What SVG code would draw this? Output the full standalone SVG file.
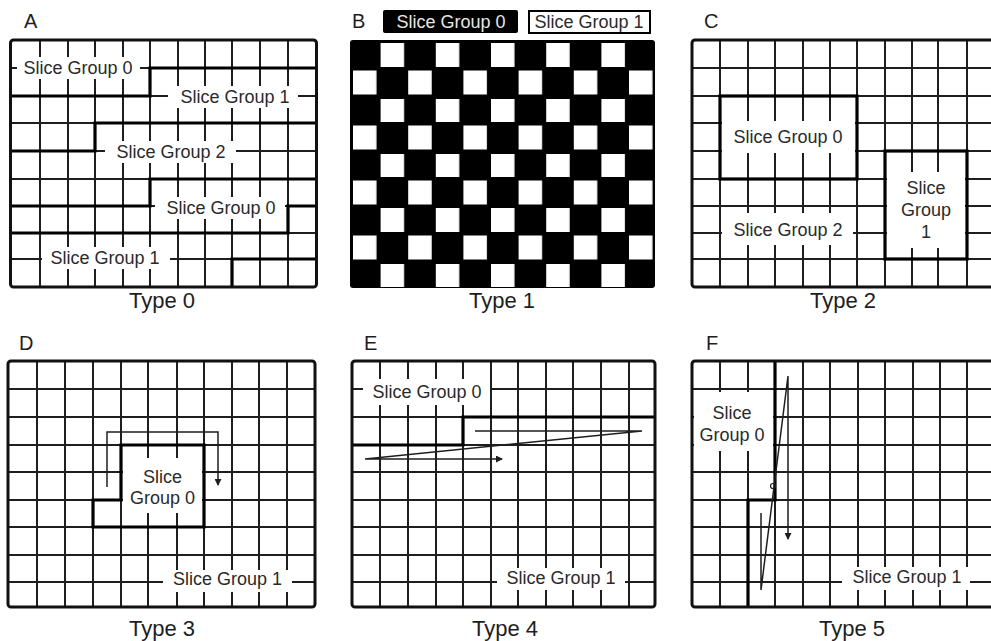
<svg xmlns="http://www.w3.org/2000/svg" width="991" height="641" viewBox="0 0 991 641">
<style>
.g{stroke:#1e1e1e;stroke-width:2;fill:none}
.b{stroke:#000;stroke-width:3.2;fill:none;stroke-linejoin:miter}
.o{stroke:#111;stroke-width:3;fill:none}
.w{fill:#fff}
.t{font-family:"Liberation Sans",Arial,sans-serif;font-size:18px;fill:#2a2a2a;text-anchor:middle}
.ty{font-family:"Liberation Sans",Arial,sans-serif;font-size:22px;fill:#1e1e1e;text-anchor:middle}
.l{font-family:"Liberation Sans",Arial,sans-serif;font-size:20px;fill:#1e1e1e}
.a{stroke:#1e1e1e;stroke-width:1.5;fill:none}
</style>
<defs>
<marker id="ah" markerWidth="7" markerHeight="7" refX="6" refY="3.5" orient="auto" markerUnits="userSpaceOnUse">
<path d="M0,0 L7,3.5 L0,7 z" fill="#1e1e1e"/>
</marker>
<pattern id="chk" patternUnits="userSpaceOnUse" x="353" y="43" width="55.2" height="55">
<rect x="27.6" y="0" width="23.5" height="24" fill="#fff"/>
<rect x="0" y="27.5" width="23.5" height="24" fill="#fff"/>
</pattern>
</defs>
<rect width="991" height="641" fill="#fff"/>

<g id="panelA">
<text class="l" x="24" y="28">A</text>
<path class="g" d="M40,40V287M68,40V287M95,40V287M123,40V287M150,40V287M178,40V287M205,40V287M232,40V287M260,40V287M288,40V287M10.5,68H316.5M10.5,96H316.5M10.5,123H316.5M10.5,151H316.5M10.5,179H316.5M10.5,206H316.5M10.5,233H316.5M10.5,259H316.5"/>
<rect class="w" x="17" y="57" width="123" height="22"/>
<rect class="w" x="168" y="86" width="130" height="22"/>
<rect class="w" x="105" y="141" width="131" height="22"/>
<rect class="w" x="155" y="197" width="130" height="22"/>
<rect class="w" x="42" y="247" width="128" height="22"/>
<path class="b" d="M316.5,68H150V96H10.5M316.5,123H95V151H10.5M316.5,179H150V206H10.5M316.5,206H288V233H10.5M316.5,259H232V287"/>
<rect class="o" x="10.5" y="40" width="306" height="247" rx="3"/>
<text class="t" x="78" y="74">Slice Group 0</text>
<text class="t" x="235" y="103">Slice Group 1</text>
<text class="t" x="171" y="158">Slice Group 2</text>
<text class="t" x="221" y="214">Slice Group 0</text>
<text class="t" x="105" y="264">Slice Group 1</text>
<text class="ty" x="162" y="308">Type 0</text>
</g>

<g id="panelB">
<text class="l" x="352" y="28">B</text>
<rect x="383" y="10" width="135" height="23" rx="2" fill="#000"/>
<text class="t" x="451" y="28" style="fill:#e6e6e6">Slice Group 0</text>
<rect x="529" y="11" width="121" height="22" fill="#fff" stroke="#000" stroke-width="2"/>
<text class="t" x="589" y="28">Slice Group 1</text>
<rect x="350" y="40" width="305" height="248" rx="3" fill="#000"/>
<rect x="350" y="40" width="305" height="248" fill="url(#chk)"/>
<text class="ty" x="502" y="308">Type 1</text>
</g>

<g id="panelC">
<text class="l" x="704" y="28">C</text>
<path class="g" d="M720,40V287M748,40V287M775,40V287M803,40V287M830,40V287M857,40V287M885,40V287M912,40V287M938,40V287M967,40V287M692,68H995M692,96H995M692,123H995M692,151H995M692,179H995M692,206H995M692,233H995M692,259H995"/>
<rect class="w" x="722" y="121" width="133" height="32"/>
<rect class="w" x="722" y="213" width="131" height="32"/>
<rect class="w" x="887" y="172" width="78" height="76"/>
<rect class="b" x="720" y="96" width="137" height="83"/>
<rect class="b" x="885" y="151" width="82" height="108"/>
<rect class="o" x="692" y="40" width="305" height="247" rx="3"/>
<text class="t" x="788" y="143">Slice Group 0</text>
<text class="t" x="788" y="236">Slice Group 2</text>
<text class="t" x="926" y="194">Slice</text>
<text class="t" x="926" y="216">Group</text>
<text class="t" x="926" y="238">1</text>
<text class="ty" x="843" y="308">Type 2</text>
</g>

<g id="panelD">
<text class="l" x="19" y="350">D</text>
<path class="g" d="M37,361V607M65,361V607M93,361V607M121,361V607M148,361V607M177,361V607M204,361V607M232,361V607M259,361V607M287,361V607M8,389H315M8,417H315M8,445H315M8,472H315M8,500H315M8,527H315M8,555H315M8,582H315"/>
<rect class="w" x="123" y="458" width="79" height="55"/>
<rect class="w" x="163" y="570" width="129" height="22"/>
<path class="b" d="M121,445H204V527H93V500H121Z"/>
<rect class="o" x="8" y="361" width="307" height="246" rx="3"/>
<text class="t" x="162.5" y="483">Slice</text>
<text class="t" x="162.5" y="504">Group 0</text>
<text class="t" x="227.5" y="585">Slice Group 1</text>
<text class="ty" x="162" y="636">Type 3</text>
</g>

<g id="panelE">
<text class="l" x="364" y="350">E</text>
<path class="g" d="M380,361V607M408,361V607M436,361V607M463,361V607M491,361V607M518,361V607M546,361V607M573,361V607M601,361V607M629,361V607M352,389H655M352,417H655M352,445H655M352,472H655M352,500H655M352,527H655M352,555H655M352,582H655"/>
<rect class="w" x="363" y="379" width="127" height="26"/>
<rect class="w" x="497" y="568" width="128" height="22"/>
<path class="b" d="M655,417H463V445H352"/>
<rect class="o" x="352" y="361" width="303" height="246" rx="3"/>
<text class="t" x="427" y="398">Slice Group 0</text>
<text class="t" x="561" y="584">Slice Group 1</text>
<text class="ty" x="505" y="636">Type 4</text>
</g>

<g id="panelF">
<text class="l" x="706" y="350">F</text>
<path class="g" d="M720,361V607M748,361V607M775,361V607M803,361V607M830,361V607M858,361V607M885,361V607M913,361V607M940,361V607M967,361V607M692,389H995M692,417H995M692,445H995M692,472H995M692,500H995M692,527H995M692,555H995M692,582H995"/>
<rect class="w" x="694" y="392" width="79" height="59"/>
<rect class="w" x="842" y="567" width="128" height="23"/>
<path class="b" d="M775,361V500H748V607"/>
<rect class="o" x="692" y="361" width="305" height="246" rx="3"/>
<text class="t" x="732" y="419">Slice</text>
<text class="t" x="732" y="441">Group 0</text>
<text class="t" x="907" y="583">Slice Group 1</text>
<text class="ty" x="852" y="636">Type 5</text>
</g>

<g id="connectors">
<path class="a" d="M107,487V432H218V485" marker-end="url(#ah)"/>
<path class="a" d="M475,431H642L365,459H502" marker-end="url(#ah)"/>
<path class="a" d="M761,513V590L788,376V539" marker-end="url(#ah)"/>
<circle cx="773" cy="486" r="2.5" fill="none" stroke="#1e1e1e" stroke-width="1.2"/>
</g>
</svg>
